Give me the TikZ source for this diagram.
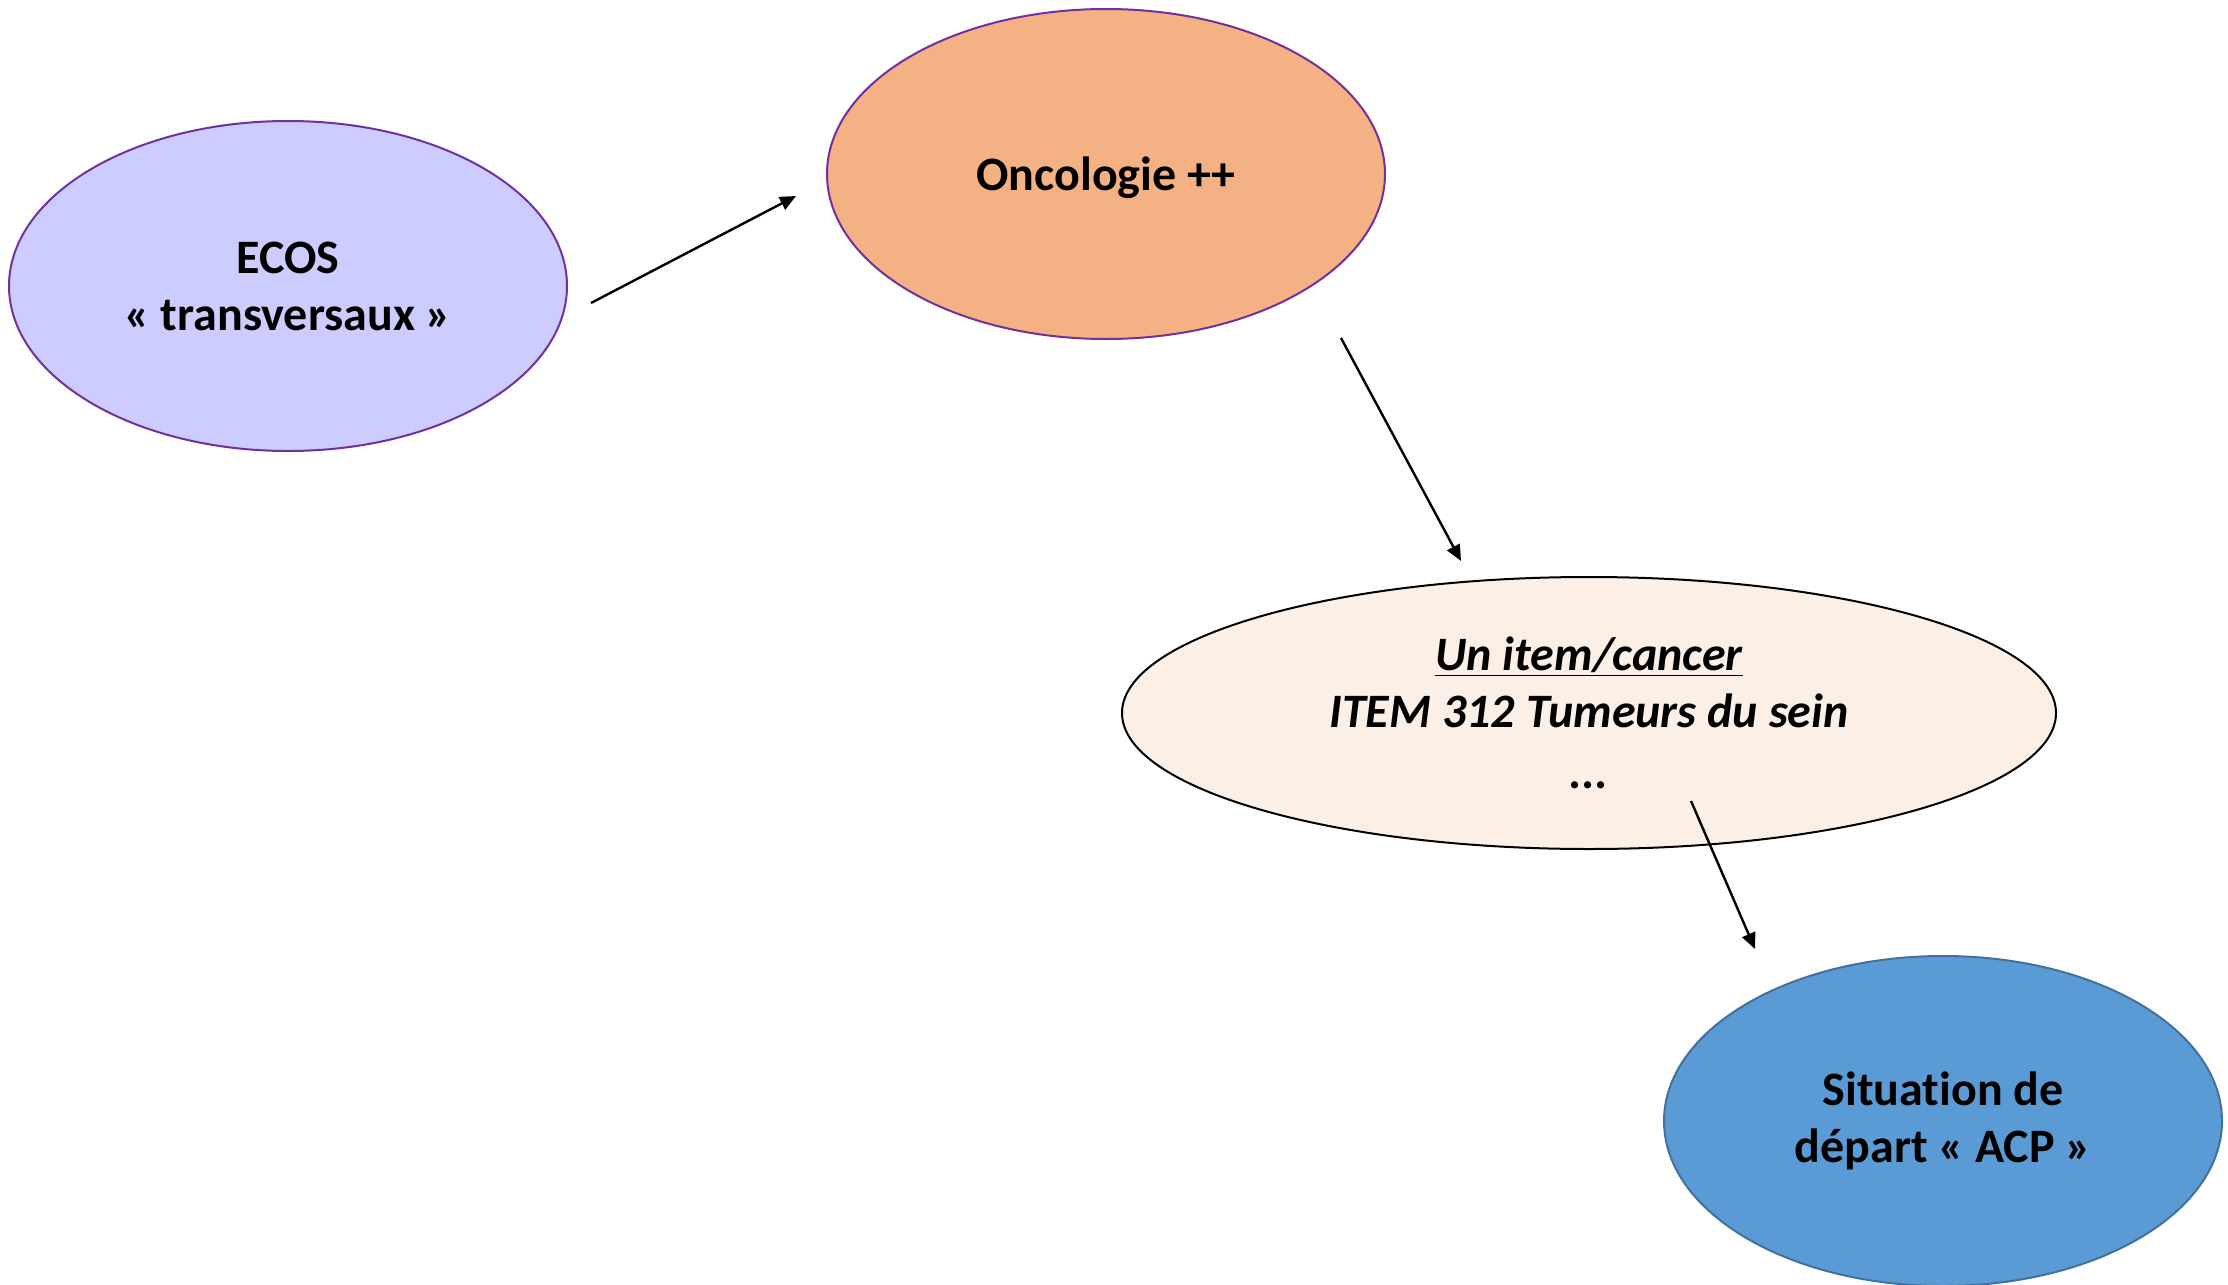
\documentclass[tikz,border=0pt]{standalone}
\usepackage{fontspec}
\setmainfont[Ligatures=NoCommon]{Carlito}
\usetikzlibrary{shapes.geometric,arrows.meta}

\definecolor{ecosfill}{HTML}{CCCCFF}
\definecolor{oncofill}{HTML}{F4B183}
\definecolor{purpleline}{HTML}{7030A0}
\definecolor{itemfill}{HTML}{FBEFE6}
\definecolor{sitfill}{HTML}{5B9BD5}
\definecolor{sitline}{HTML}{41719C}

\tikzset{
  bubble/.style={ellipse, inner sep=0pt, align=center,
    minimum width=279pt, minimum height=165pt, line width=1pt,
    font=\fontsize{24}{28.5}\selectfont\bfseries},
  link/.style={line width=1.2pt, -{Triangle[length=8pt,width=7pt]}}
}

\begin{document}
\begin{tikzpicture}[x=0.5pt, y=-0.5pt]
  \useasboundingbox (0,0) rectangle (2228,1285);

  % concept bubbles
  \node[bubble, draw=purpleline, fill=ecosfill] (ecos) at (288,286)
    {\raisebox{-1pt}{ECOS}\\\raisebox{-1pt}{« transversaux »}};
  \node[bubble, draw=purpleline, fill=oncofill, text height=21pt, text depth=5pt]
    (onco) at (1106,174) {Oncologie ++};
  \node[bubble, draw=black, fill=itemfill, minimum width=467pt,
        minimum height=136pt, font=\fontsize{24}{28.5}\selectfont\bfseries\itshape]
    (item) at (1589,713)
    {\underline{Un item/cancer}\\ITEM 312 Tumeurs du sein\\[2pt]...};
  \node[bubble, draw=sitline, fill=sitfill] (sit) at (1943,1121)
    {Situation de\\départ « ACP »};

  % free-standing arrow ends
  \coordinate (a1s) at (591,303);
  \coordinate (a1e) at (796,196);
  \coordinate (a2s) at (1341,338);
  \coordinate (a2e) at (1461,561);
  \coordinate (a3s) at (1691,801);
  \coordinate (a3e) at (1755,949);

  \draw[link] (a1s) -- (a1e);
  \draw[link] (a2s) -- (a2e);
  \draw[link] (a3s) -- (a3e);
\end{tikzpicture}
\end{document}
